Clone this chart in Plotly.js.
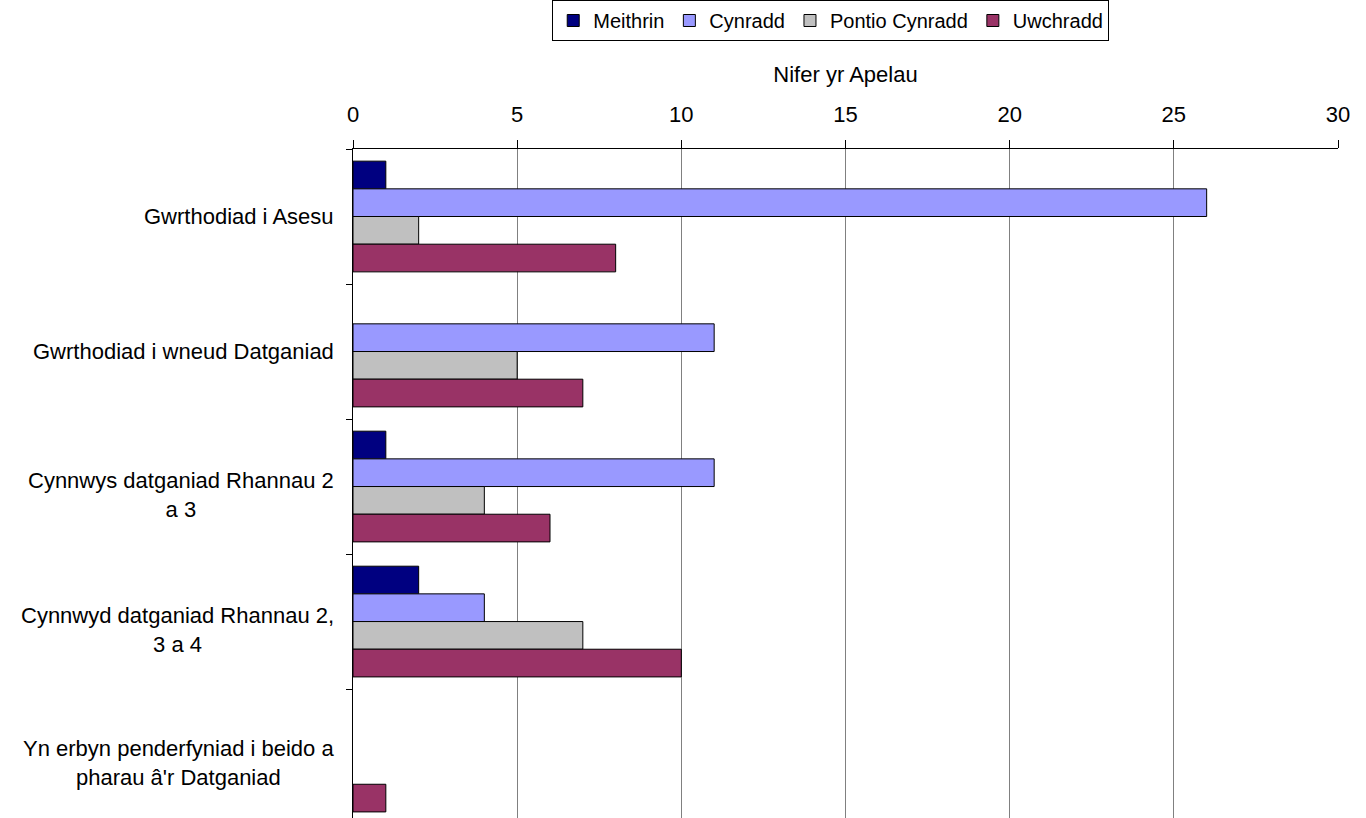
<!DOCTYPE html>
<html>
<head>
<meta charset="utf-8">
<script src="https://cdn.plot.ly/plotly-3.0.1.min.js"></script>
<style>html,body{margin:0;padding:0;background:#fff;}#chart{width:1366px;height:818px;}</style>
</head>
<body>
<div id="chart"></div>
<script>
var categories = [
  "Gwrthodiad i Asesu",
  "Gwrthodiad i wneud Datganiad",
  "Cynnwys datganiad Rhannau 2<br>a 3",
  "Cynnwyd datganiad Rhannau 2,<br>3 a 4",
  "Yn erbyn penderfyniad i beido a<br>pharau â'r Datganiad"
];
var seriesNames = ["Meithrin", "Cynradd", "Pontio Cynradd", "Uwchradd"];
var meithrin = [1, 0, 1, 2, 0];
var cynradd = [26, 11, 11, 4, 0];
var pontio = [2, 5, 4, 7, 0];
var uwchradd = [8, 7, 6, 10, 1];
var colors = ["#000080", "#9999FF", "#C0C0C0", "#993366"];
var xTickVals = [0, 5, 10, 15, 20, 25, 30];
var xTitle = "Nifer yr Apelau";

var font = "Liberation Sans, Arial, sans-serif";
var values = [meithrin, cynradd, pontio, uwchradd];
var traces = values.map(function (v, i) {
  return {
    type: "bar",
    orientation: "h",
    name: seriesNames[i],
    x: v,
    y: categories,
    marker: { color: colors[i], line: { color: "#000000", width: v.map(function (d) { return d === 0 ? 0 : 1; }) } },
    hoverinfo: "x+name"
  };
});

var yshifts = [0, 0, -8, -8, -6];
var annotations = categories.map(function (c, i) {
  return {
    text: c, x: 0, xref: "paper", y: c, yref: "y",
    xanchor: "right", yanchor: "middle", xshift: -17, yshift: yshifts[i],
    align: "center", showarrow: false,
    font: { family: font, size: 22, color: "#000" }
  };
});

var layout = {
  width: 1366, height: 818,
  margin: { l: 353, r: 28, t: 149, b: 0, pad: 0 },
  paper_bgcolor: "#fff", plot_bgcolor: "#fff",
  barmode: "group", bargap: 0.18, bargroupgap: 0,
  font: { family: font, size: 22, color: "#000" },
  showlegend: true,
  legend: {
    orientation: "h", x: 0.485, xanchor: "center", y: 1.223, yanchor: "top",
    bordercolor: "#000", borderwidth: 1, bgcolor: "#fff",
    font: { family: font, size: 20, color: "#000" },
    itemwidth: 30, tracegroupgap: 0, itemclick: false
  },
  xaxis: {
    side: "top", range: [0, 30], autorange: false,
    tickvals: xTickVals, ticktext: xTickVals.map(String),
    showgrid: true, gridcolor: "#808080", gridwidth: 1,
    zeroline: false, showline: true, linecolor: "#000", linewidth: 1,
    ticks: "outside", ticklen: 8, tickcolor: "#000", tickwidth: 1,
    ticklabelstandoff: 9,
    tickfont: { family: font, size: 22, color: "#000" },
    title: { text: xTitle, font: { family: font, size: 22, color: "#000" }, standoff: 13 }
  },
  yaxis: {
    type: "category", autorange: false, range: [4.455, -0.5],
    showticklabels: false, tickson: "boundaries",
    ticks: "outside", ticklen: 6, tickcolor: "#000",
    showline: true, linecolor: "#000", linewidth: 1,
    showgrid: false, zeroline: false
  },
  annotations: annotations
};

Plotly.newPlot("chart", traces, layout, { displayModeBar: false, staticPlot: true });
</script>
</body>
</html>
